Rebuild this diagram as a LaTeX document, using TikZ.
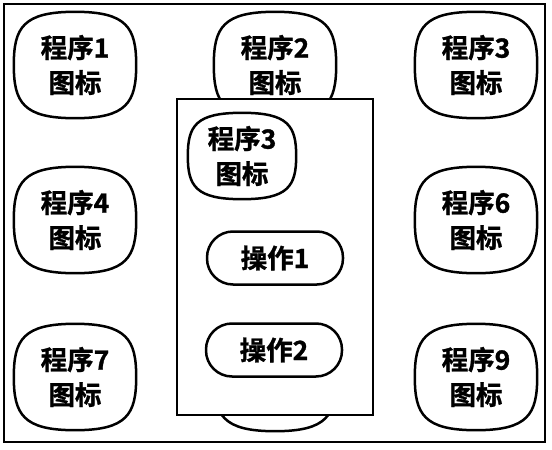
\documentclass[tikz,border=0pt]{standalone}
\usepackage{fontspec}
\newfontfamily\cjk{Noto Sans CJK SC}[BoldFont={Noto Sans CJK SC Bold},BoldFeatures={FakeBold=1.2}]
\usetikzlibrary{calc}
\newcommand\iconframe[1]{%
  \draw[line width=2.5pt]
    (#1.north) .. controls ($(#1.north)!0.85!(#1.north east)$) and ($(#1.east)!0.7!(#1.north east)$) .. (#1.east)
    .. controls ($(#1.east)!0.7!(#1.south east)$) and ($(#1.south)!0.85!(#1.south east)$) .. (#1.south)
    .. controls ($(#1.south)!0.85!(#1.south west)$) and ($(#1.west)!0.7!(#1.south west)$) .. (#1.west)
    .. controls ($(#1.west)!0.7!(#1.north west)$) and ($(#1.north)!0.85!(#1.north west)$) .. (#1.north) -- cycle;}

\begin{document}
\begin{tikzpicture}[x=1pt,y=-1pt,font=\cjk\bfseries\fontsize{26.5}{35}\selectfont,
  icon/.style={align=center,inner sep=0pt,minimum width=122pt,minimum height=106pt},
  subicon/.style={icon,minimum width=108pt,minimum height=86pt},
  opbtn/.style={draw,line width=2.5pt,rounded corners=26pt,fill=white,
    minimum width=136pt,minimum height=53pt},
  window/.style={draw,line width=2pt,fill=white,minimum width=196pt,minimum height=316pt}]
\useasboundingbox (0,0) rectangle (552,450);
\draw[line width=2pt] (4,4) rectangle (545,442);
\node[icon] (prog1) at (75,65) {程序1\\图标}; \iconframe{prog1}
\node[icon] (prog2) at (275,65) {程序2\\图标}; \iconframe{prog2}
\node[icon] (prog3) at (476,65) {程序3\\图标}; \iconframe{prog3}
\node[icon] (prog4) at (75,220) {程序4\\图标}; \iconframe{prog4}
\node[icon] (prog6) at (476,220) {程序6\\图标}; \iconframe{prog6}
\node[icon] (prog7) at (75,377) {程序7\\图标}; \iconframe{prog7}
\node[icon] (prog8) at (275,378) {}; \iconframe{prog8}
\node[icon] (prog9) at (476,377) {程序9\\图标}; \iconframe{prog9}
\node[window] (win) at (275,257) {};
\node[subicon,fill=white] (winprog) at (242,156) {程序3\\图标}; \iconframe{winprog}
\node[opbtn] (op1) at (275,258) {操作1};
\node[opbtn] (op2) at (274,350) {操作2};
\end{tikzpicture}
\end{document}
